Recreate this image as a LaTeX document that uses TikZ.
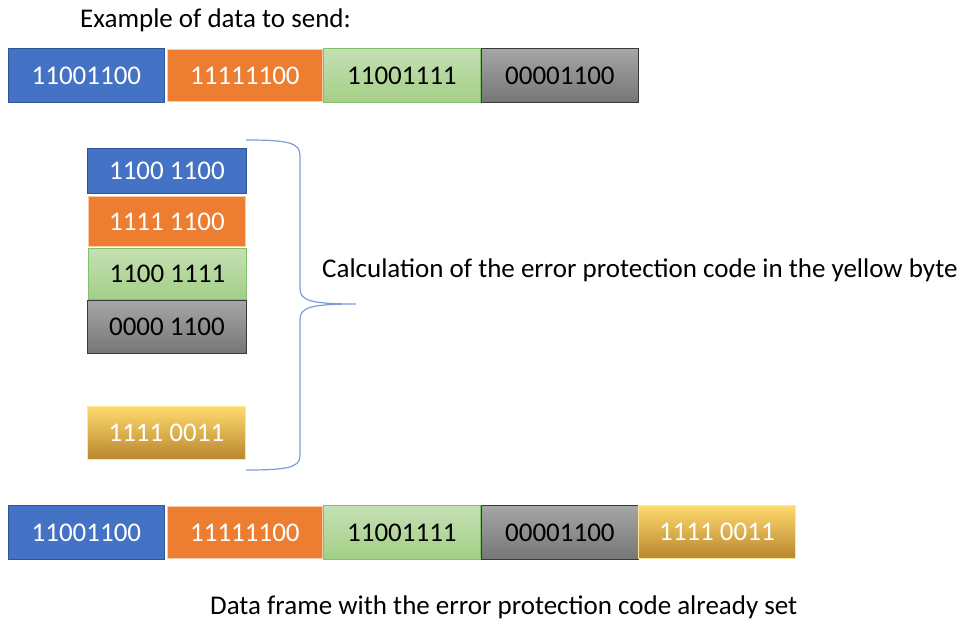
\documentclass[tikz,border=0pt]{standalone}
\usepackage{fontspec}
\setmainfont{Carlito}
\definecolor{blueF}{HTML}{4472C4}
\definecolor{blueD}{HTML}{2F5597}
\definecolor{orangeF}{HTML}{ED7D31}
\definecolor{orangeD}{HTML}{F8CBAD}
\definecolor{greenT}{HTML}{C5E0B4}
\definecolor{greenB}{HTML}{A3CF86}
\definecolor{greenD}{HTML}{82C06A}
\definecolor{grayT}{HTML}{A6A6A6}
\definecolor{grayB}{HTML}{767676}
\definecolor{grayD}{HTML}{3A3A3A}
\definecolor{yelT}{HTML}{FFDA6E}
\definecolor{yelM}{HTML}{FCC02E}
\definecolor{yelB}{HTML}{B8862E}
\definecolor{yelD}{HTML}{FFE699}
\definecolor{braceC}{HTML}{7C9CD8}
\tikzset{
  cell/.style={anchor=north west, inner sep=0pt, line width=0.8pt, font=\fontsize{27}{32}\selectfont},
  bluecell/.style={cell, fill=blueF, draw=blueD, text=white},
  orangecell/.style={cell, fill=orangeF, draw=orangeD, text=white},
  greencell/.style={cell, top color=greenT, bottom color=greenB, draw=greenD, text=black},
  graycell/.style={cell, top color=grayT, bottom color=grayB, draw=grayD, text=black},
  yelcell/.style={cell, top color=yelT, middle color=yelM, bottom color=yelB, draw=yelD, text=white},
  lbl/.style={anchor=west, inner sep=0pt, font=\fontsize{27}{32}\selectfont},
}
\begin{document}
\begin{tikzpicture}[x=1pt,y=-1pt]
\useasboundingbox (0,0) rectangle (966,620);
% title
\node[lbl] (title) at (80,20) {Example of data to send:};
% top row
\node[bluecell, minimum width=156pt, minimum height=54pt] (t1) at (8,48) {11001100};
\node[orangecell, minimum width=155pt, minimum height=52pt] (t2) at (167,49) {11111100};
\node[greencell, minimum width=157pt, minimum height=54pt] (t3) at (323,48) {11001111};
\node[graycell, minimum width=157pt, minimum height=54pt] (t4) at (481,48) {00001100};
% middle stack
\node[bluecell, minimum width=159pt, minimum height=45pt] (m1) at (87,148) {1100 1100};
\node[orangecell, minimum width=157pt, minimum height=50pt] (m2) at (88,196) {1111 1100};
\node[greencell, minimum width=158pt, minimum height=51pt] (m3) at (88,248) {1100 1111};
\node[graycell, minimum width=159pt, minimum height=53pt] (m4) at (87,300) {0000 1100};
\node[yelcell, minimum width=158pt, minimum height=53pt] (m5) at (87,406) {1111 0011};
% brace
\draw[braceC, line width=1.2pt]
  (246,140) .. controls (290,140) and (300,143) .. (300,156)
  -- (300,288) .. controls (300,300) and (308,304) .. (356,304)
  (356,304) .. controls (308,304) and (300,308) .. (300,320)
  -- (300,456) .. controls (300,468) and (285,470) .. (246,470);
\node[lbl] (calc) at (322,270) {Calculation of the error protection code in the yellow byte};
% bottom row
\node[bluecell, minimum width=156pt, minimum height=54pt] (b1) at (8,505) {11001100};
\node[orangecell, minimum width=155pt, minimum height=52pt] (b2) at (167,506) {11111100};
\node[greencell, minimum width=157pt, minimum height=54pt] (b3) at (323,505) {11001111};
\node[graycell, minimum width=157pt, minimum height=54pt] (b4) at (481,505) {00001100};
\node[yelcell, minimum width=157pt, minimum height=53pt] (b5) at (638,505) {1111 0011};
\node[lbl] (caption) at (210,607) {Data frame with the error protection code already set};
\end{tikzpicture}
\end{document}
